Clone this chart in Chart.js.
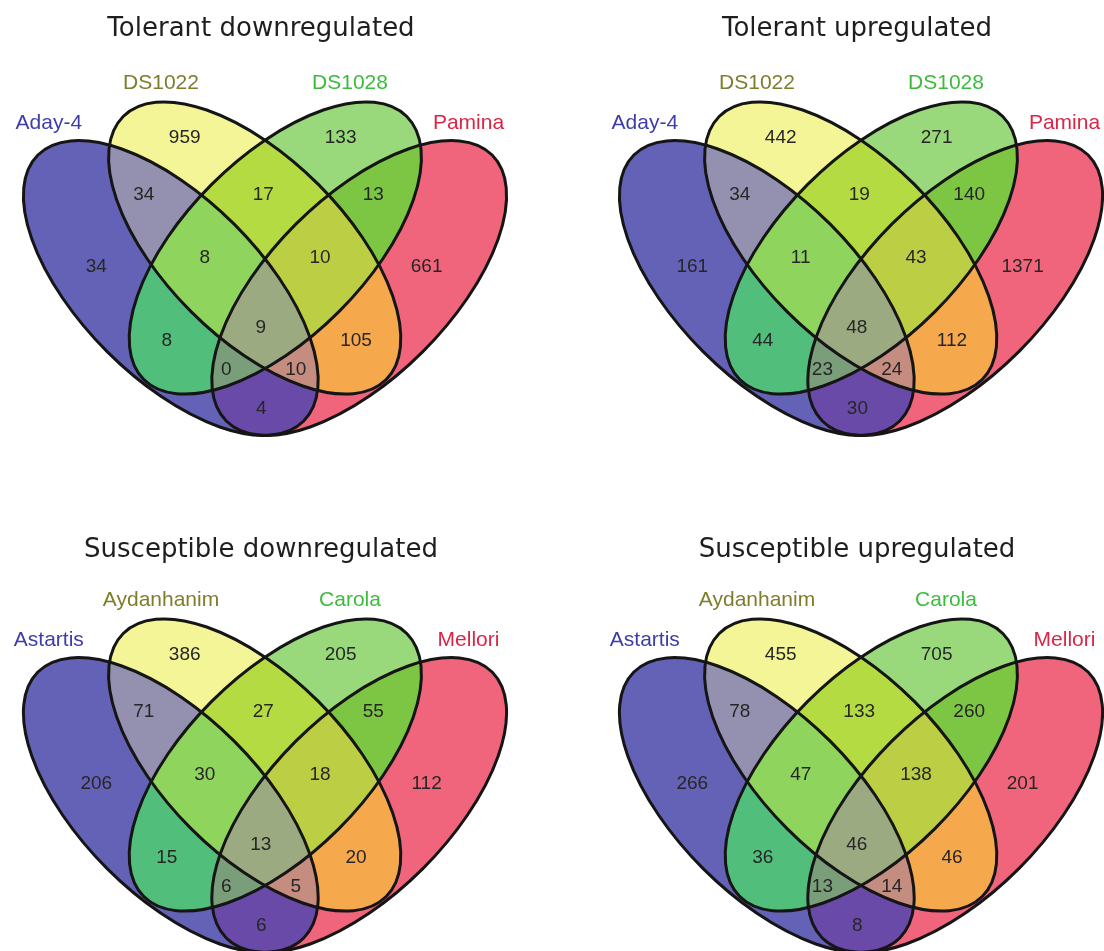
<!DOCTYPE html>
<html>
<head>
<meta charset="utf-8">
<script src="https://cdn.jsdelivr.net/npm/chart.js@4.4.1/dist/chart.umd.min.js"></script>
<style>
  html, body { margin: 0; padding: 0; background: #ffffff; }
  body { width: 1104px; height: 951px; position: relative; overflow: hidden; }
  canvas { position: absolute; }
</style>
</head>
<body>
<canvas id="tolDown" width="596" height="520" style="left:0px;top:0px"></canvas>
<canvas id="tolUp" width="508" height="520" style="left:596px;top:0px"></canvas>
<canvas id="susDown" width="596" height="434" style="left:0px;top:517px"></canvas>
<canvas id="susUp" width="508" height="434" style="left:596px;top:517px"></canvas>
<script>
// Region keys: A = first line, B = second, C = third, D = fourth
const regionKeys = ['A', 'B', 'C', 'D', 'AB', 'BC', 'CD', 'ABC', 'BCD', 'ABCD', 'AC', 'BD', 'ACD', 'ABD', 'AD'];

// Gene counts per region, in the order of regionKeys
const tolerantDown    = [34, 959, 133, 661, 34, 17, 13, 8, 10, 9, 8, 105, 0, 10, 4];
const tolerantUp      = [161, 442, 271, 1371, 34, 19, 140, 11, 43, 48, 44, 112, 23, 24, 30];
const susceptibleDown = [206, 386, 205, 112, 71, 27, 55, 30, 18, 13, 15, 20, 6, 5, 6];
const susceptibleUp   = [266, 455, 705, 201, 78, 133, 260, 47, 138, 46, 36, 46, 13, 14, 8];

// Line names
const tolerantLines    = ['Aday-4', 'DS1022', 'DS1028', 'Pamina'];
const susceptibleLines = ['Astartis', 'Aydanhanim', 'Carola', 'Mellori'];

// Panel titles
const panelTitles = ['Tolerant downregulated', 'Tolerant upregulated', 'Susceptible downregulated', 'Susceptible upregulated'];

// ---- layout (panel units, y grows downward) ----
const ellipses = {
  A: { cx: 170.8, cy: 288, a: 188, b: 90, rot: 45 },
  B: { cx: 254.7, cy: 248, a: 186, b: 90, rot: 45 },
  C: { cx: 275.3, cy: 248, a: 186, b: 90, rot: -45 },
  D: { cx: 359.2, cy: 288, a: 188, b: 90, rot: -45 }
};
const regionLabelPos = [
  [96.3, 265], [184.7, 136], [340.6, 136], [426.6, 265],
  [143.8, 193], [263.2, 193], [373.2, 193],
  [204.7, 256], [320, 256], [260.8, 326],
  [166.8, 339], [356, 339], [226.4, 368], [295.8, 368], [261.4, 407]
];
const setLabelPos = [[48.8, 129.3], [161, 89.3], [350, 89.3], [468.5, 129.3]];
const setLabelColors = ['#3d3daa', '#7d7d2c', '#3dbb3d', '#dc2446'];
const regionColors = {
  A: 'rgb(100,98,182)', B: 'rgb(243,245,151)', C: 'rgb(153,217,123)', D: 'rgb(240,101,123)',
  AB: 'rgb(148,144,175)', BC: 'rgb(180,220,66)', CD: 'rgb(124,198,68)',
  AC: 'rgb(82,190,124)', BD: 'rgb(245,168,76)', AD: 'rgb(106,74,168)',
  ABC: 'rgb(143,212,92)', BCD: 'rgb(188,207,68)', ACD: 'rgb(122,158,122)', ABD: 'rgb(197,141,128)',
  ABCD: 'rgb(156,170,130)'
};

const vennPlugin = {
  id: 'venn',
  beforeDatasetsDraw(chart, args, opts) {
    const { ctx, scales: { x, y } } = chart;
    const ellPath = (e) => {
      const cx = x.getPixelForValue(e.cx), cy = y.getPixelForValue(e.cy);
      const rx = Math.abs(x.getPixelForValue(e.cx + e.a) - cx);
      const ry = Math.abs(x.getPixelForValue(e.cx + e.b) - cx);
      ctx.beginPath();
      ctx.ellipse(cx, cy, rx, ry, e.rot * Math.PI / 180, 0, 2 * Math.PI);
    };
    // paint each region: intersections with more sets are painted later, on top
    const order = regionKeys.map((k, i) => i).sort((i, j) => regionKeys[i].length - regionKeys[j].length);
    for (const i of order) {
      const key = regionKeys[i];
      ctx.save();
      for (const ch of key) { ellPath(ellipses[ch]); ctx.clip(); }
      ctx.fillStyle = regionColors[key];
      ctx.fillRect(0, 0, chart.width, chart.height);
      ctx.restore();
    }
    ctx.save();
    ctx.lineWidth = 3;
    ctx.strokeStyle = '#151515';
    for (const ch of 'ABCD') { ellPath(ellipses[ch]); ctx.stroke(); }
    ctx.restore();
  },
  afterDatasetsDraw(chart, args, opts) {
    const { ctx, scales: { x, y } } = chart;
    ctx.save();
    // region counts, placed at the dataset's points
    const ds = chart.data.datasets[0];
    const meta = chart.getDatasetMeta(0);
    ctx.font = '19px "Liberation Sans", Arial, sans-serif';
    ctx.fillStyle = '#262626';
    ctx.textAlign = 'center';
    ctx.textBaseline = 'alphabetic';
    meta.data.forEach((el, i) => {
      ctx.fillText(String(ds.data[i].count), el.x, el.y + 6.8);
    });
    // line names
    ctx.font = '21px "Liberation Sans", Arial, sans-serif';
    opts.names.forEach((name, i) => {
      ctx.fillStyle = setLabelColors[i];
      ctx.fillText(name, x.getPixelForValue(setLabelPos[i][0]), y.getPixelForValue(setLabelPos[i][1]));
    });
    // panel title
    ctx.font = '26px "DejaVu Sans", Verdana, sans-serif';
    ctx.fillStyle = '#1e1e1e';
    ctx.fillText(opts.title, x.getPixelForValue(261), y.getPixelForValue(opts.titleY));
    ctx.restore();
  }
};

function drawPanel(canvasId, values, names, title, titleY) {
  const canvas = document.getElementById(canvasId);
  const points = regionLabelPos.map((p, i) => ({ x: p[0], y: p[1], count: values[i] }));
  new Chart(canvas, {
    type: 'scatter',
    data: { datasets: [{ data: points, pointRadius: 0, pointHoverRadius: 0 }] },
    options: {
      responsive: false,
      animation: false,
      events: [],
      layout: { padding: 0 },
      scales: {
        x: { type: 'linear', min: 0, max: canvas.width, display: false },
        y: { type: 'linear', min: 0, max: canvas.height, reverse: true, display: false }
      },
      plugins: {
        legend: { display: false },
        tooltip: { enabled: false },
        venn: { names: names, title: title, titleY: titleY }
      }
    },
    plugins: [vennPlugin]
  });
}

drawPanel('tolDown', tolerantDown, tolerantLines, panelTitles[0], 35.5);
drawPanel('tolUp', tolerantUp, tolerantLines, panelTitles[1], 35.5);
drawPanel('susDown', susceptibleDown, susceptibleLines, panelTitles[2], 39.5);
drawPanel('susUp', susceptibleUp, susceptibleLines, panelTitles[3], 39.5);
</script>
</body>
</html>
